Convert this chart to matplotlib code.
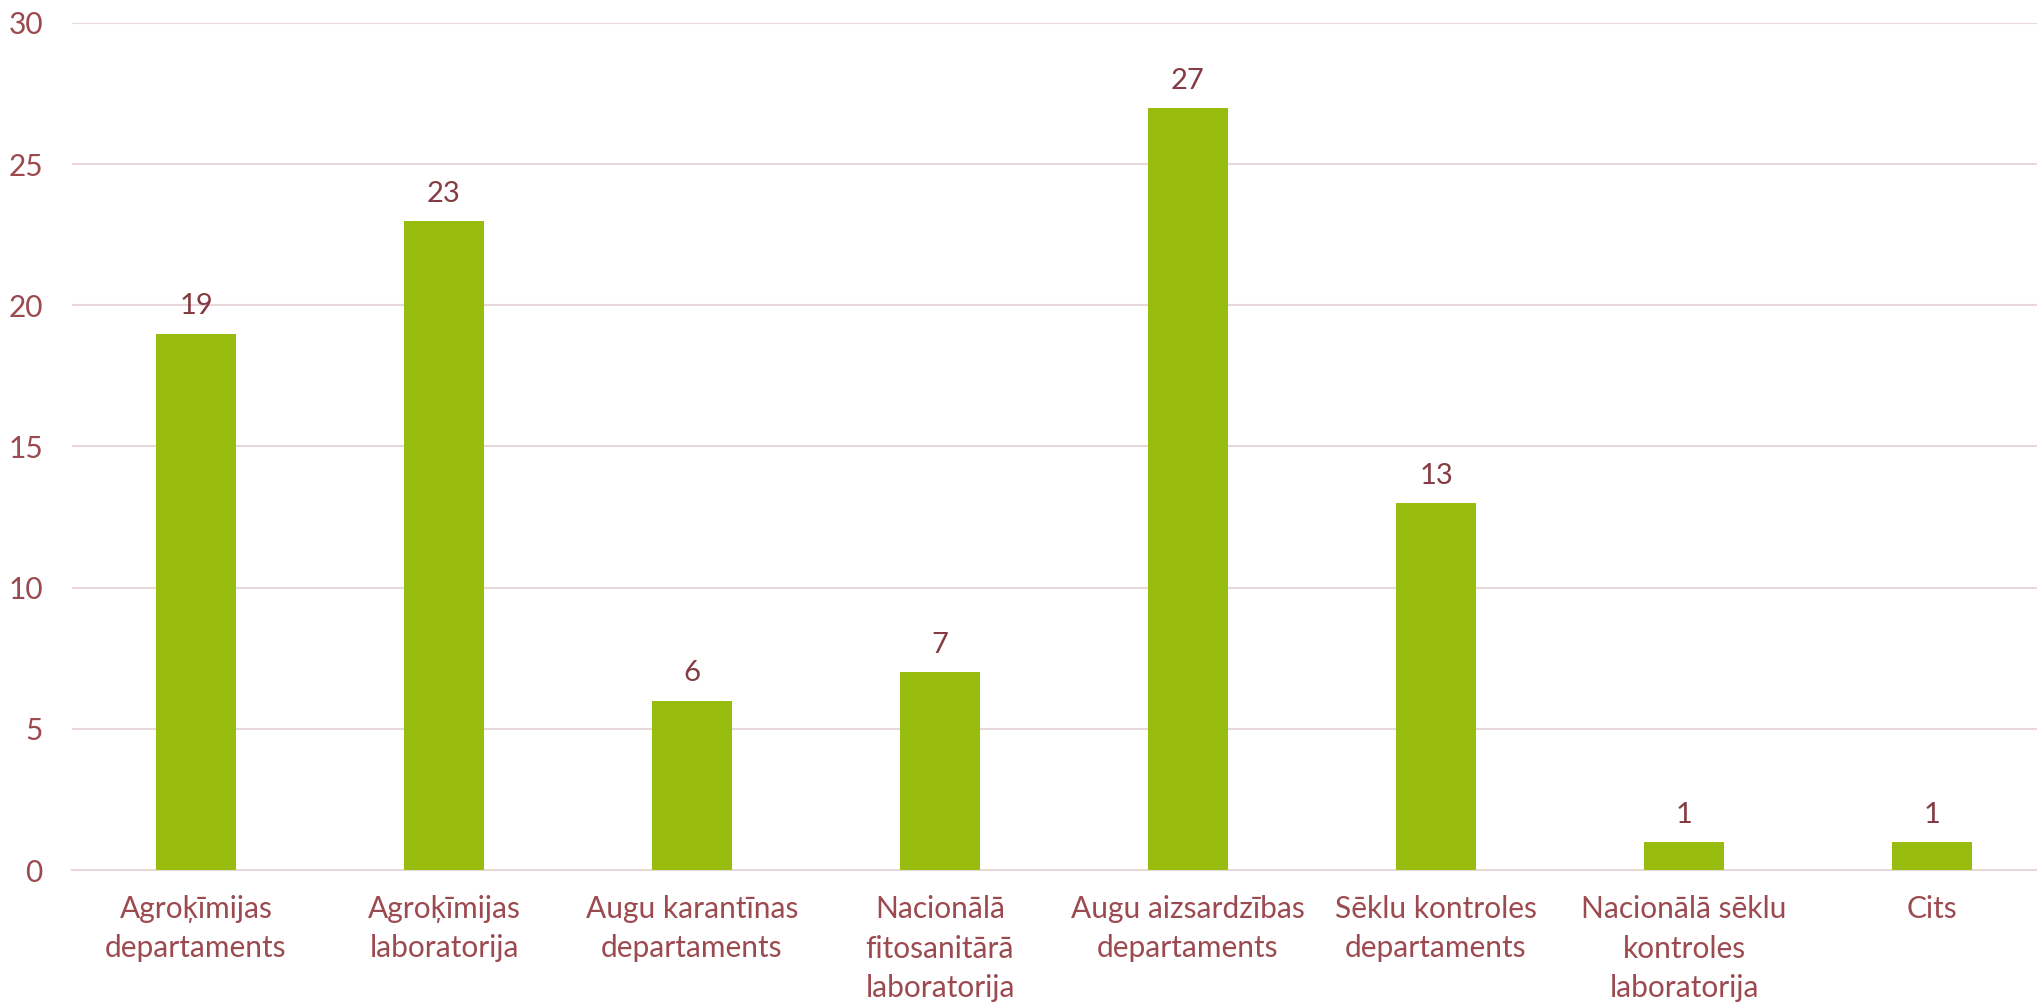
import matplotlib.pyplot as plt

# data
categories = [
    'Agroķīmijas\ndepartaments',
    'Agroķīmijas\nlaboratorija',
    'Augu karantīnas\ndepartaments',
    'Nacionālā\nfitosanitārā\nlaboratorija',
    'Augu aizsardzības\ndepartaments',
    'Sēklu kontroles\ndepartaments',
    'Nacionālā sēklu\nkontroles\nlaboratorija',
    'Cits',
]
values = [19, 23, 6, 7, 27, 13, 1, 1]
y_ticks = [0, 5, 10, 15, 20, 25, 30]

bar_color = '#99BD0F'
label_color = '#9B4A50'
value_color = '#843C42'
grid_color = '#EAD7DA'

plt.rcParams['font.family'] = ['Lato', 'DejaVu Sans']

W, H = 2037, 1006
fig = plt.figure(figsize=(W / 100, H / 100), dpi=100)
# plot area in pixels: left 72, zero line at y=870, 30 at y=23, width 8*248
ax = fig.add_axes([72 / W, (H - 870) / H, 8 * 248 / W, (870 - 23) / H])

x = range(len(categories))
ax.bar(x, values, width=80 / 248, color=bar_color, zorder=3)
for xi, v in zip(x, values):
    ax.text(xi, v + 0.5, str(v), ha='center', va='bottom',
            fontsize=21, color=value_color)

ax.set_xlim(-0.5, len(categories) - 0.5)
ax.set_ylim(0, 30)
ax.set_yticks(y_ticks)
ax.set_xticks(list(x))
ax.set_xticklabels(categories, fontsize=21.5, color=label_color, linespacing=1.5)
ax.tick_params(axis='y', labelsize=21.5, labelcolor=label_color, length=0, pad=21)
ax.tick_params(axis='x', length=0, pad=18)

ax.grid(axis='y', color=grid_color, linewidth=1.5, zorder=0)
for s in ['top', 'right', 'left']:
    ax.spines[s].set_visible(False)
ax.spines['bottom'].set_color(grid_color)
ax.spines['bottom'].set_linewidth(1.5)

fig.savefig('out.png', dpi=100)
